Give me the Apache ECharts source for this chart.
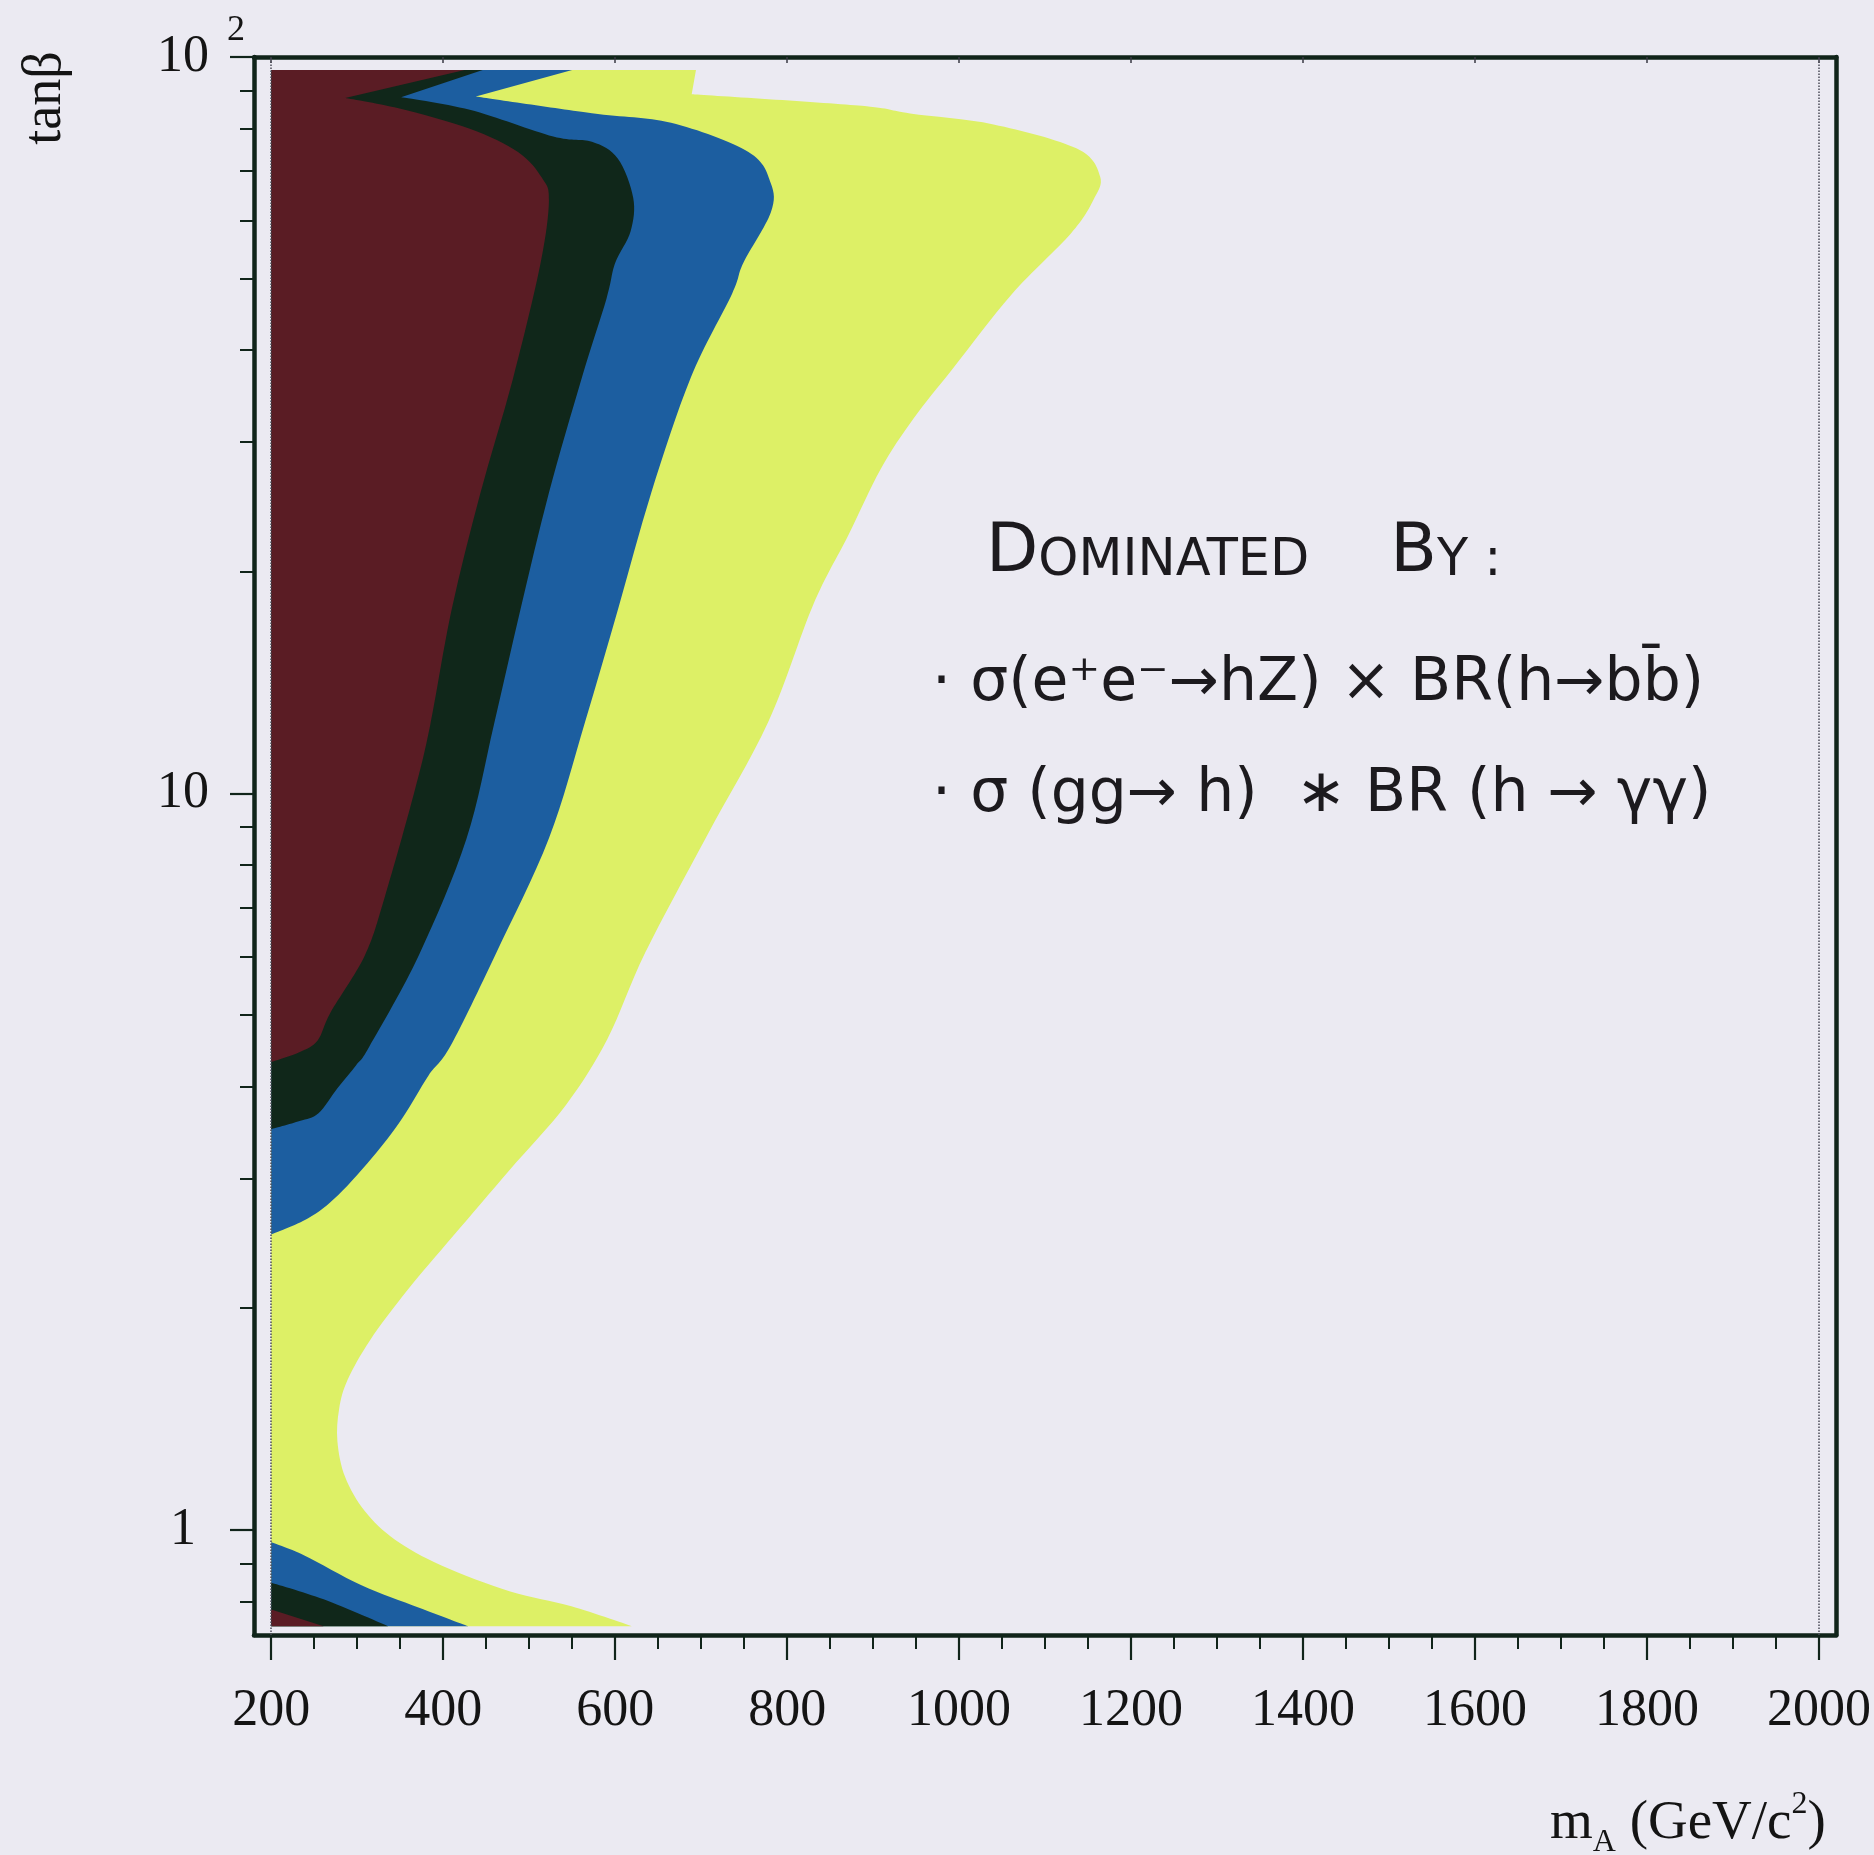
<!DOCTYPE html>
<html>
<head>
<meta charset="utf-8">
<title>tanβ vs m_A</title>
<script src="https://cdn.jsdelivr.net/npm/echarts@6/dist/echarts.min.js"></script>
<style>
  html, body { margin: 0; padding: 0; background: #ebeaf2; }
  #chart { width: 1874px; height: 1855px; }
</style>
</head>
<body>
<div id="chart"></div>
<script>
// Axis ticks: m_A in GeV/c^2, tanβ on a log scale
const massMajorTicks = [200, 400, 600, 800, 1000, 1200, 1400, 1600, 1800, 2000];
const massMinorTicks = [250, 300, 350, 450, 500, 550, 650, 700, 750, 850, 900, 950,
  1050, 1100, 1150, 1250, 1300, 1350, 1450, 1500, 1550, 1650, 1700, 1750, 1850, 1900, 1950];
const tanbMajorTicks = [1, 10, 100];
const tanbMinorTicks = [0.8, 0.9, 2, 3, 4, 5, 6, 7, 8, 9, 20, 30, 40, 50, 60, 70, 80, 90];

// Contour outlines as [m_A, tanβ], closed along the m_A = 200 edge.
const yellowRegion = [
  [200, 96], [694, 96], [689, 89.0], [883, 85.9], [943, 83.8], [1040, 81.0], [1137, 75.1],
  [1164, 68.8], [1156, 63.9], [1130, 57.6], [1061, 47.6], [993, 37.8], [947, 32.3],
  [909, 27.6], [871, 22.4], [830, 18.0], [778, 12.5], [706, 8.73], [635, 6.08], [591, 4.64],
  [543, 3.78], [477, 3.08], [412, 2.51], [359, 2.12], [315, 1.81], [289, 1.60], [279, 1.46],
  [277, 1.32], [286, 1.18], [309, 1.06], [344, 0.97], [398, 0.895], [478, 0.825],
  [549, 0.788], [620, 0.74], [200, 0.74]
];
const blueRegion = [
  [200, 96], [550, 96], [438, 88.4], [573, 83.9], [665, 81.4], [755, 74.3], [781, 67.4],
  [781, 61.5], [749, 52.5], [736, 47.7], [688, 36.7], [642, 25.6], [604, 17.9], [565, 12.5],
  [523, 8.69], [461, 6.05], [409, 4.55], [383, 4.14], [353, 3.63], [322, 3.25], [278, 2.85],
  [243, 2.65], [200, 2.52]
];
const blueLowRegion = [[200, 0.962], [238, 0.924], [305, 0.841], [372, 0.784], [429, 0.74], [200, 0.74]];
const greenRegion = [
  [200, 96], [446, 96], [351, 88.2], [431, 84.8], [528, 78.0], [573, 76.7], [603, 72.8],
  [621, 64.4], [618, 58.0], [600, 52.5], [590, 47.0], [561, 36.6], [523, 25.6], [490, 17.8],
  [459, 12.4], [427, 8.67], [372, 6.04], [314, 4.53], [299, 4.28], [277, 3.98], [255, 3.68],
  [233, 3.59], [200, 3.50]
];
const greenLowRegion = [[200, 0.848], [261, 0.805], [336, 0.74], [200, 0.74]];
const redRegion = [
  [200, 96], [425, 96], [286, 88.0], [348, 85.2], [431, 79.9], [487, 74.3], [515, 68.5],
  [523, 63.8], [513, 52.3], [481, 36.5], [443, 25.5], [410, 17.8], [385, 12.4], [366, 10.0],
  [332, 7.23], [309, 6.03], [269, 5.04], [254, 4.62], [232, 4.45], [200, 4.32]
];
const redLowRegion = [[200, 0.78], [261, 0.74], [200, 0.74]];

// Outline vertices that are real corners (edges of the scanned range, notch tips)
const yellowCorners = [0, 1, 2, 34, 35];
const blueCorners = [0, 1, 2, 22];
const blueLowCorners = [0, 4, 5];
const greenCorners = [0, 1, 2, 22];
const greenLowCorners = [0, 2, 3];
const redCorners = [0, 1, 2, 19];
const redLowCorners = [0, 1, 2];

const INK = '#10241a';
const SERIF = '"Liberation Serif", "DejaVu Serif", serif';
const HAND = '"DejaVu Sans", "Noto Sans", sans-serif';

// Closed SVG path through the projected vertices: cubic segments at smooth
// vertices, straight joins at corners.
function outlinePath(pts, corners) {
  const n = pts.length;
  const sharp = new Set(corners);
  const f = function (v) { return v.toFixed(2); };
  let d = 'M' + f(pts[0][0]) + ' ' + f(pts[0][1]);
  for (let i = 0; i < n; i++) {
    const j = (i + 1) % n;
    const a = pts[i], b = pts[j];
    const prev = pts[(i - 1 + n) % n], next = pts[(i + 2) % n];
    const aS = sharp.has(i), bS = sharp.has(j);
    if (aS && bS) {
      d += ' L' + f(b[0]) + ' ' + f(b[1]);
      continue;
    }
    const c1 = aS ? a : [a[0] + (b[0] - prev[0]) / 6, a[1] + (b[1] - prev[1]) / 6];
    const c2 = bS ? b : [b[0] - (next[0] - a[0]) / 6, b[1] - (next[1] - a[1]) / 6];
    d += ' C' + f(c1[0]) + ' ' + f(c1[1]) + ' ' + f(c2[0]) + ' ' + f(c2[1]) + ' ' + f(b[0]) + ' ' + f(b[1]);
  }
  return d + ' Z';
}

// One filled region per outline, projected through the cartesian axes
function regionSeries(name, outline, corners, color) {
  return {
    type: 'custom',
    name: name,
    coordinateSystem: 'cartesian2d',
    xAxisIndex: 0,
    yAxisIndex: 0,
    data: outline,
    encode: { x: 0, y: 1 },
    clip: true,
    silent: true,
    animation: false,
    renderItem: function (params, api) {
      if (params.dataIndex !== 0) return null;
      const pts = outline.map(function (p) { return api.coord(p); });
      return {
        type: 'path',
        shape: { pathData: outlinePath(pts, corners) },
        style: { fill: color, stroke: null }
      };
    }
  };
}

const chart = echarts.init(document.getElementById('chart'), null, { renderer: 'canvas' });

const yellow = regionSeries('yellow', yellowRegion, yellowCorners, '#ddf066');
yellow.markLine = {
  silent: true, symbol: 'none', label: { show: false }, animation: false,
  lineStyle: { type: 'dotted', color: '#4c4c58', width: 1.5 },
  data: [{ xAxis: 200 }, { xAxis: 2000 }]
};

chart.setOption({
  backgroundColor: '#ebeaf2',
  animation: false,
  grid: { left: 254, top: 57, width: 1588, height: 1578, containLabel: false },
  xAxis: [
    {
      type: 'value', min: 180, max: 2020, position: 'bottom',
      axisLine: { show: true, onZero: false, lineStyle: { color: INK, width: 4.5 } },
      axisTick: { show: true, inside: false, length: 25, customValues: massMajorTicks,
        lineStyle: { color: INK, width: 2.2 } },
      axisLabel: { show: true, customValues: massMajorTicks, margin: 50,
        formatter: function (v) { return String(Math.round(v)); },
        fontFamily: SERIF, fontSize: 52, color: '#141414' },
      splitLine: { show: false }
    },
    {
      type: 'value', min: 180, max: 2020, position: 'bottom',
      axisLine: { show: false, onZero: false },
      axisTick: { show: true, inside: false, length: 14, customValues: massMinorTicks,
        lineStyle: { color: INK, width: 2 } },
      axisLabel: { show: false },
      splitLine: { show: false }
    },
    {
      type: 'value', min: 180, max: 2020, position: 'top',
      axisLine: { show: true, onZero: false, lineStyle: { color: INK, width: 4.5 } },
      axisTick: { show: true, inside: true, length: 6, customValues: massMajorTicks,
        lineStyle: { color: '#3a3a44', width: 1.5 } },
      axisLabel: { show: false },
      splitLine: { show: false }
    }
  ],
  yAxis: [
    {
      type: 'log', logBase: 10, min: 0.72, max: 100, position: 'left',
      axisLine: { show: true, onZero: false, lineStyle: { color: INK, width: 4.5 } },
      axisTick: { show: true, inside: false, length: 24, customValues: tanbMajorTicks,
        lineStyle: { color: INK, width: 2.2 } },
      axisLabel: {
        show: true, customValues: tanbMajorTicks, margin: 71, align: 'center',
        formatter: function (v) {
          return Math.abs(v - 100) < 1e-6 ? '{p|}{a|10}{s|2}' : '{a|' + Math.round(v) + '}';
        },
        rich: {
          a: { fontFamily: SERIF, fontSize: 52, color: '#141414', lineHeight: 88 },
          s: { fontFamily: SERIF, fontSize: 36, color: '#141414', lineHeight: 36,
            verticalAlign: 'top', padding: [0, 0, 0, 18] },
          p: { width: 36 }
        }
      },
      splitLine: { show: false }
    },
    {
      type: 'log', logBase: 10, min: 0.72, max: 100, position: 'left',
      axisLine: { show: false, onZero: false },
      axisTick: { show: true, inside: false, length: 14, customValues: tanbMinorTicks,
        lineStyle: { color: INK, width: 2 } },
      axisLabel: { show: false },
      splitLine: { show: false }
    },
    {
      type: 'log', logBase: 10, min: 0.72, max: 100, position: 'right',
      axisLine: { show: true, onZero: false, lineStyle: { color: INK, width: 4.5 } },
      axisTick: { show: false },
      axisLabel: { show: false },
      splitLine: { show: false }
    }
  ],
  series: [
    yellow,
    regionSeries('blue', blueRegion, blueCorners, '#1c5ea0'),
    regionSeries('blue-low', blueLowRegion, blueLowCorners, '#1c5ea0'),
    regionSeries('green', greenRegion, greenCorners, '#10271a'),
    regionSeries('green-low', greenLowRegion, greenLowCorners, '#10271a'),
    regionSeries('red', redRegion, redCorners, '#5a1c24'),
    regionSeries('red-low', redLowRegion, redLowCorners, '#5a1c24')
  ],
  graphic: [
    {
      type: 'text', x: 46, y: 98, rotation: Math.PI / 2, silent: true,
      style: { text: 'tanβ', fontFamily: SERIF, fontSize: 54, fill: '#141414',
        align: 'center', verticalAlign: 'middle' }
    },
    {
      type: 'text', x: 1550, y: 1824, silent: true,
      style: {
        text: '{n|m}{sub|A}{n| (GeV/c}{sup|2}{n|)}',
        align: 'left', verticalAlign: 'middle',
        rich: {
          n: { fontFamily: SERIF, fontSize: 55, fill: '#141414', lineHeight: 70 },
          sub: { fontFamily: SERIF, fontSize: 32, fill: '#141414', lineHeight: 32, verticalAlign: 'bottom' },
          sup: { fontFamily: SERIF, fontSize: 32, fill: '#141414', lineHeight: 32, verticalAlign: 'top' }
        }
      }
    },
    {
      type: 'text', x: 986, y: 550, silent: true,
      style: {
        text: '{b|D}{s|OMINATED}{s|     }{b|B}{s|Y :}',
        align: 'left', verticalAlign: 'middle',
        rich: {
          b: { fontFamily: HAND, fontSize: 68, fill: '#1c1a1e', lineHeight: 74, verticalAlign: 'bottom' },
          s: { fontFamily: HAND, fontSize: 51, fill: '#1c1a1e', lineHeight: 56, verticalAlign: 'bottom' }
        }
      }
    },
    {
      type: 'text', x: 932, y: 684, silent: true,
      style: {
        text: '· σ(e⁺e⁻→hZ) × BR(h→bb̄)',
        fontFamily: HAND, fontSize: 60, fill: '#1c1a1e',
        align: 'left', verticalAlign: 'middle'
      }
    },
    {
      type: 'text', x: 932, y: 795, silent: true,
      style: {
        text: '· σ (gg→ h)  ∗ BR (h → γγ)',
        fontFamily: HAND, fontSize: 60, fill: '#1c1a1e',
        align: 'left', verticalAlign: 'middle'
      }
    }
  ]
});
</script>
</body>
</html>
